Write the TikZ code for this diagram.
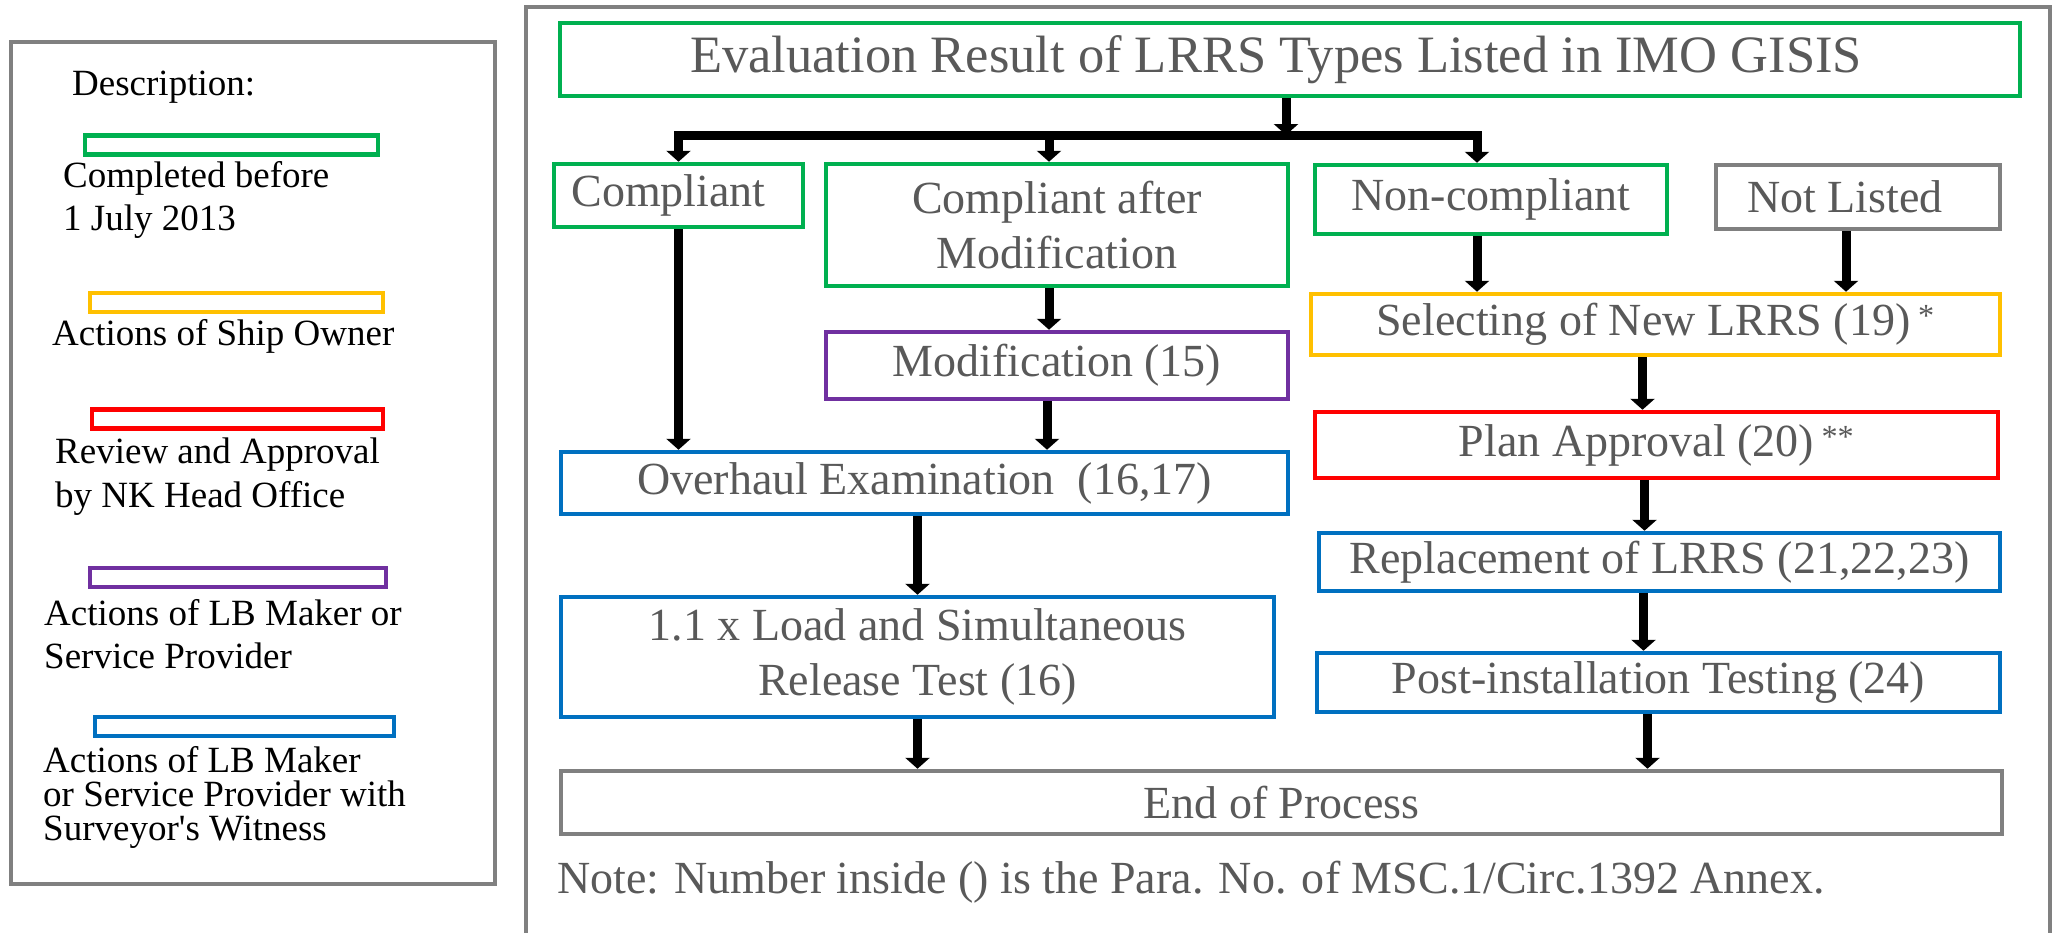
\documentclass[tikz,border=0pt]{standalone}
\usepackage{fontspec}
\setmainfont{Liberation Serif}[Ligatures=TeXOff]
\usetikzlibrary{arrows.meta}
\definecolor{cgreen}{HTML}{00B050}
\definecolor{corange}{HTML}{FFC000}
\definecolor{cred}{HTML}{FF0000}
\definecolor{cpurple}{HTML}{7030A0}
\definecolor{cblue}{HTML}{0070C0}
\definecolor{cgray}{HTML}{808080}
\definecolor{ctext}{HTML}{595959}
\begin{document}
\begin{tikzpicture}[x=1pt,y=-1pt,
  box/.style={draw, line width=4.5pt, inner sep=0pt, align=center, text=ctext,
    font=\fontsize{46}{55}\selectfont},
  arr/.style={line width=9pt, -{Triangle[width=24pt,length=11pt]}},
  leg/.style={anchor=base west, inner sep=0pt, align=left,
    font=\fontsize{37}{43}\selectfont},
  legbar/.style={draw, line width=4.5pt, inner sep=0pt, minimum height=19pt},
  frame/.style={draw=cgray, line width=4pt}]
\useasboundingbox (0,0) rectangle (2055,932);
\fill[white] (0,0) rectangle (2055,932);

% ---------- legend ----------
\draw[frame] (10.5,42) rectangle (494.5,884);
\node[leg] (ldesc) at (72,95) {Description:};
\node[legbar, draw=cgreen, minimum width=293pt] (lbar1) at (231.5,145) {};
\node[leg] (ltxt1) at (63,230) {Completed before\\1 July 2013};
\node[legbar, draw=corange, minimum width=293pt] (lbar2) at (236.5,302.5) {};
\node[leg] (ltxt2) at (52,345) {Actions of Ship Owner};
\node[legbar, draw=cred, minimum width=291pt] (lbar3) at (237.5,419) {};
\node[leg, font=\fontsize{37}{44}\selectfont] (ltxt3) at (55,507) {Review and Approval\\by NK Head Office};
\node[legbar, draw=cpurple, minimum width=296pt] (lbar4) at (238,577.5) {};
\node[leg] (ltxt4) at (44,668) {Actions of LB Maker or\\Service Provider};
\node[legbar, draw=cblue, minimum width=299pt] (lbar5) at (244.5,726.5) {};
\node[leg, font={\fontsize{37}{34}\selectfont\lineskiplimit=-20pt}] (ltxt5) at (43,840) {Actions of LB Maker\\or Service Provider with\\Surveyor's Witness};

% ---------- main frame (open at bottom) ----------
\draw[frame] (526,945) -- (526,7) -- (2050,7) -- (2050,945);

% ---------- boxes ----------
\node[box, draw=cgreen, minimum width=1460pt, minimum height=73pt,
  font=\fontsize{52.5}{60}\selectfont] (eval) at (1290,59.5)
  {Evaluation Result of LRRS Types Listed in IMO GISIS\hspace*{28pt}};
\node[box, draw=cgreen, minimum width=249pt, minimum height=63pt] (comp) at (678.5,195.5) {Compliant\hspace*{20pt}};
\node[box, draw=cgreen, minimum width=462pt, minimum height=122pt] (cam) at (1057,225) {Compliant after\\Modification};
\node[box, draw=cgreen, minimum width=352pt, minimum height=69pt] (noncomp) at (1491,199.5) {Non-compliant};
\node[box, draw=cgray, minimum width=284pt, minimum height=64pt] (notlisted) at (1858,197) {Not Listed\hspace*{26pt}};
\node[box, draw=cpurple, minimum width=462pt, minimum height=67pt] (mod) at (1057,365.5) {Modification (15)};
\node[box, draw=corange, minimum width=689pt, minimum height=61pt] (sel) at (1655.5,324.5) {Selecting of New LRRS (19)\,\textsuperscript{*}};
\node[box, draw=cred, minimum width=683pt, minimum height=66pt] (plan) at (1656.5,445) {Plan Approval (20)\,\textsuperscript{**}};
\node[box, draw=cblue, minimum width=727pt, minimum height=62pt] (overhaul) at (924.5,483) {Overhaul Examination\ \ (16,17)};
\node[box, draw=cblue, minimum width=681pt, minimum height=58pt] (repl) at (1659.5,562) {Replacement of LRRS (21,22,23)};
\node[box, draw=cblue, minimum width=713pt, minimum height=120pt] (load) at (917.5,657) {1.1 x Load and Simultaneous\\Release Test (16)};
\node[box, draw=cblue, minimum width=683pt, minimum height=59pt] (post) at (1658.5,682.5) {Post-installation Testing (24)};
\node[box, draw=cgray, minimum width=1441pt, minimum height=63pt] (end) at (1281.5,802.5) {End of Process};

\node[anchor=base west, inner sep=0pt, text=ctext, font=\fontsize{46}{55}\selectfont] (note) at (557,893)
  {Note: Number inside () is the Para. No. of MSC.1/Circ.1392 Annex.};

% ---------- connectors ----------
\coordinate (busL) at (comp.north |- 0,135);
\coordinate (busR) at (1477,135);
\coordinate (busM) at ([xshift=-8pt]cam.north |- 0,135);
\draw[arr] ([xshift=-4pt]eval.south) -- ([xshift=-4pt]eval.south |- busL);
\draw[arr] (busM) -- (busL) -- (comp.north);
\draw[arr] (busM) -- (busR) -- (busR |- noncomp.north);
\draw[arr] (busM) -- (busM |- cam.north);

\draw[arr] (comp.south) -- (comp.south |- overhaul.north);
\draw[arr] ([xshift=-8pt]cam.south) -- ([xshift=-8pt]cam.south |- mod.north);
\draw[arr] ([xshift=-10pt]mod.south) -- ([xshift=-10pt]mod.south |- overhaul.north);
\draw[arr] (load.north |- overhaul.south) -- (load.north);
\draw[arr] (load.south) -- (load.south |- end.north);

\draw[arr] (busR |- noncomp.south) -- (busR |- sel.north);
\draw[arr] ([xshift=-12pt]notlisted.south) -- ([xshift=-12pt]notlisted.south |- sel.north);
\draw[arr] ([xshift=-13pt]sel.south) -- ([xshift=-13pt]sel.south |- plan.north);
\draw[arr] ([xshift=-12pt]plan.south) -- ([xshift=-12pt]plan.south |- repl.north);
\draw[arr] ([xshift=-16pt]repl.south) -- ([xshift=-16pt]repl.south |- post.north);
\draw[arr] ([xshift=-11pt]post.south) -- ([xshift=-11pt]post.south |- end.north);
\end{tikzpicture}
\end{document}
